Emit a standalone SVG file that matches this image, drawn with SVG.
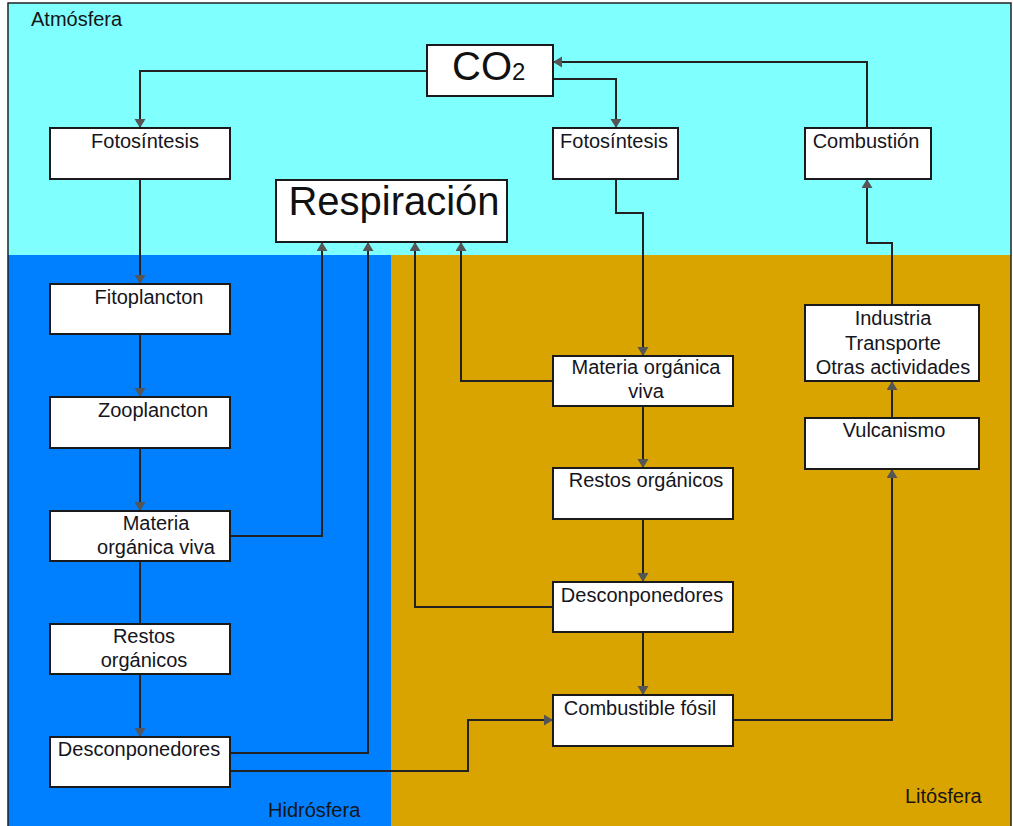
<svg xmlns="http://www.w3.org/2000/svg" width="1013" height="826" viewBox="0 0 1013 826">
<style>
.box{fill:#ffffff;stroke:#1a1a1a;stroke-width:2}
.t{font-family:"Liberation Sans",Arial,sans-serif;font-size:20px;fill:#151520;text-anchor:middle}
.lbl{font-family:"Liberation Sans",Arial,sans-serif;font-size:20px;fill:#151515}
.big{font-family:"Liberation Sans",Arial,sans-serif;font-size:40px;fill:#111}
.c{fill:none;stroke:#222;stroke-width:2}
.a{marker-end:url(#ah)}
</style>
<defs>
<marker id="ah" markerUnits="userSpaceOnUse" markerWidth="11" markerHeight="12" refX="9" refY="5.5" orient="auto">
<path d="M0,0 L9,5.5 L0,11 z" fill="#555"/>
</marker>
</defs>
<g id="background">
<rect x="8" y="3" width="1003" height="252" fill="#80ffff"/>
<rect x="8" y="255" width="383" height="575" fill="#007fff"/>
<rect x="391" y="255" width="620" height="575" fill="#daa400"/>
<rect x="8" y="3" width="1003" height="830" fill="none" stroke="#222" stroke-width="1.5"/>
<text class="lbl" x="31" y="26">Atmósfera</text>
<text class="lbl" x="268" y="817">Hidrósfera</text>
<text class="lbl" x="905" y="803">Litósfera</text>
</g>
<g id="connectors">
<path class="c a" d="M427,71 H140 V128"/>
<path class="c a" d="M553,79 H616 V128"/>
<path class="c a" d="M867,128 V62 H553"/>
<path class="c a" d="M140,179 V284"/>
<path class="c a" d="M140,334 V397"/>
<path class="c a" d="M140,448 V511"/>
<path class="c" d="M140,561 V624"/>
<path class="c a" d="M140,674 V737"/>
<path class="c a" d="M230,536 H322 V242"/>
<path class="c a" d="M230,753 H368 V242"/>
<path class="c a" d="M230,771 H468 V720 H553"/>
<path class="c a" d="M553,607 H415 V242"/>
<path class="c a" d="M553,381 H461 V242"/>
<path class="c a" d="M616,179 V213 H643 V356"/>
<path class="c a" d="M643,406 V468"/>
<path class="c a" d="M643,519 V582"/>
<path class="c a" d="M643,632 V695"/>
<path class="c a" d="M733,720 H892 V469"/>
<path class="c a" d="M892,418 V381"/>
<path class="c a" d="M892,305 V243 H867 V179"/>
</g>
<g id="co2">
<rect class="box" x="427" y="45" width="126" height="51"/>
<text class="big" x="452" y="80">CO<tspan font-size="24">2</tspan></text>
</g>
<g id="fotosintesis-1">
<rect class="box" x="50" y="128" width="180" height="51"/>
<text class="t" x="145" y="148">Fotosíntesis</text>
</g>
<g id="fotosintesis-2">
<rect class="box" x="553" y="128" width="125" height="51"/>
<text class="t" x="614" y="148">Fotosíntesis</text>
</g>
<g id="combustion">
<rect class="box" x="805" y="128" width="126" height="51"/>
<text class="t" x="866" y="148">Combustión</text>
</g>
<g id="respiracion">
<rect class="box" x="276" y="180" width="231" height="62"/>
<text class="big" x="394" y="215" text-anchor="middle">Respiración</text>
</g>
<g id="fitoplancton">
<rect class="box" x="50" y="284" width="180" height="50"/>
<text class="t" x="149" y="304">Fitoplancton</text>
</g>
<g id="zooplancton">
<rect class="box" x="50" y="397" width="180" height="51"/>
<text class="t" x="153" y="417">Zooplancton</text>
</g>
<g id="materia-1">
<rect class="box" x="50" y="511" width="180" height="50"/>
<text class="t" x="156" y="530">Materia</text>
<text class="t" x="156" y="554">orgánica viva</text>
</g>
<g id="restos-1">
<rect class="box" x="50" y="624" width="180" height="50"/>
<text class="t" x="144" y="643">Restos</text>
<text class="t" x="144" y="667">orgánicos</text>
</g>
<g id="desconponedores-1">
<rect class="box" x="50" y="737" width="180" height="50"/>
<text class="t" x="139" y="756">Desconponedores</text>
</g>
<g id="materia-2">
<rect class="box" x="553" y="356" width="180" height="50"/>
<text class="t" x="646" y="374">Materia orgánica</text>
<text class="t" x="646" y="398">viva</text>
</g>
<g id="restos-2">
<rect class="box" x="553" y="468" width="180" height="51"/>
<text class="t" x="646" y="487">Restos orgánicos</text>
</g>
<g id="desconponedores-2">
<rect class="box" x="553" y="582" width="180" height="50"/>
<text class="t" x="642" y="602">Desconponedores</text>
</g>
<g id="combustible">
<rect class="box" x="553" y="695" width="180" height="51"/>
<text class="t" x="640" y="715">Combustible fósil</text>
</g>
<g id="industria">
<rect class="box" x="805" y="305" width="174" height="76"/>
<text class="t" x="893" y="325">Industria</text>
<text class="t" x="893" y="350">Transporte</text>
<text class="t" x="893" y="374">Otras actividades</text>
</g>
<g id="vulcanismo">
<rect class="box" x="805" y="418" width="174" height="51"/>
<text class="t" x="894" y="437">Vulcanismo</text>
</g>
</svg>
